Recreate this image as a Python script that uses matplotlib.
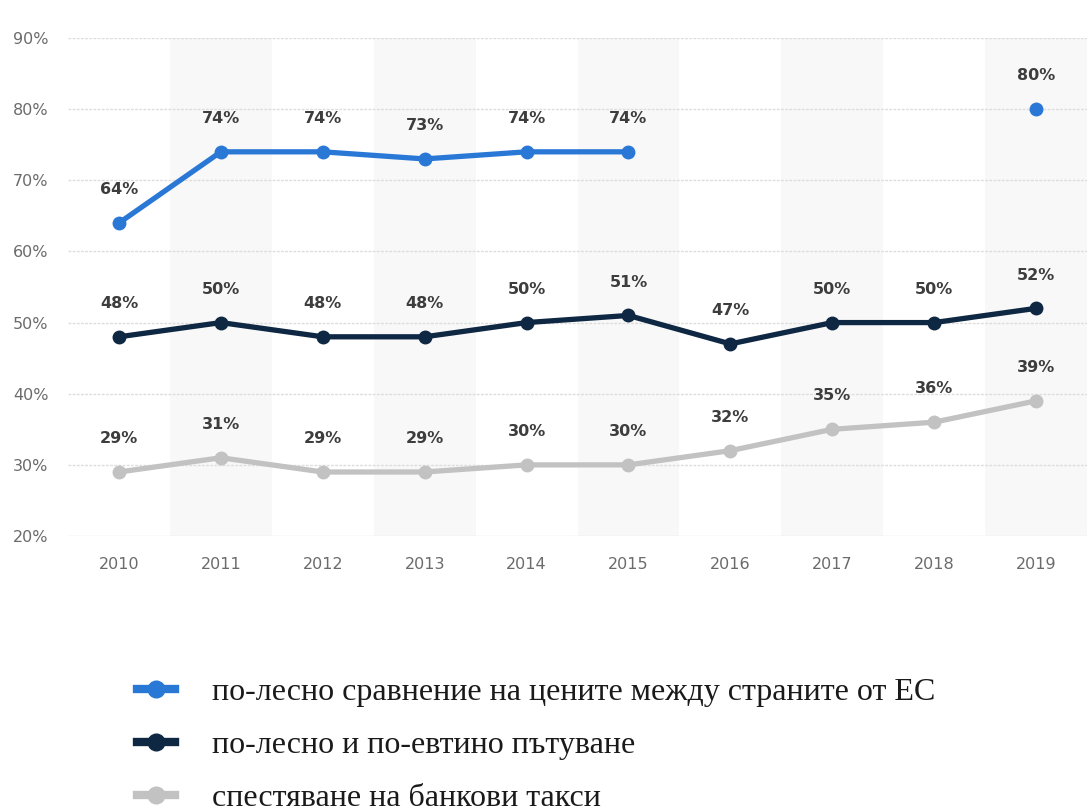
import numpy as np
import matplotlib
matplotlib.use("Agg")
import matplotlib.pyplot as plt
from matplotlib.lines import Line2D

YEARS = ["2010", "2011", "2012", "2013", "2014", "2015", "2016", "2017", "2018", "2019"]
PRICES = [64, 74, 74, 73, 74, 74, np.nan, np.nan, np.nan, 80]
TRAVEL = [48, 50, 48, 48, 50, 51, 47, 50, 50, 52]
FEES = [29, 31, 29, 29, 30, 30, 32, 35, 36, 39]
LABELS = [
    "по-лесно сравнение на цените между страните от ЕС",
    "по-лесно и по-евтино пътуване",
    "спестяване на банкови такси",
]
COLORS = ["#2a78d6", "#0e2742", "#c2c2c2"]
Y_TICKS = [20, 30, 40, 50, 60, 70, 80, 90]

fig = plt.figure(figsize=(10.87, 8.08), dpi=100)
ax = fig.add_axes([0.0626, 0.3366, 0.9374, 0.6164])

x = np.arange(len(YEARS))

# alternating column bands
for i in range(1, len(YEARS), 2):
    ax.axvspan(i - 0.5, i + 0.5, color="#f8f8f8", zorder=0, lw=0)

for y in Y_TICKS:
    ax.axhline(y, color="#dddddd", lw=1, ls=(0, (2, 1)), zorder=1)

for series, color in zip([PRICES, TRAVEL, FEES], COLORS):
    ax.plot(x, series, color=color, lw=3.8, marker="o", markersize=9,
            solid_capstyle="round", zorder=3)
    for xi, v in zip(x, series):
        if np.isnan(v):
            continue
        ax.annotate(f"{v:.0f}%", (xi, v), xytext=(0, 24), textcoords="offset points",
                    ha="center", va="center", fontsize=11.5, fontweight="bold",
                    color="#3d3d3d", zorder=4)

ax.set_xlim(-0.5, 9.5)
ax.set_ylim(20, 90)
ax.set_xticks(x)
ax.set_xticklabels(YEARS)
ax.set_yticks(Y_TICKS)
ax.set_yticklabels([f"{t}%" for t in Y_TICKS])
ax.tick_params(axis="both", length=0, labelsize=11.5, labelcolor="#6b6b6b")
ax.tick_params(axis="x", pad=15)
ax.tick_params(axis="y", pad=14)
for s in ax.spines.values():
    s.set_visible(False)

handles = [Line2D([0], [0], color=c, lw=6, marker="o", markersize=12) for c in COLORS]
fig.legend(handles, LABELS, loc="upper left", bbox_to_anchor=(0.114, 0.177),
           frameon=False, handlelength=1.2, handletextpad=1.15, labelspacing=0.74,
           prop={"family": "Liberation Serif", "size": 23}, labelcolor="#1a1a1a",
           borderaxespad=0)

fig.savefig("out.png", dpi=100)
